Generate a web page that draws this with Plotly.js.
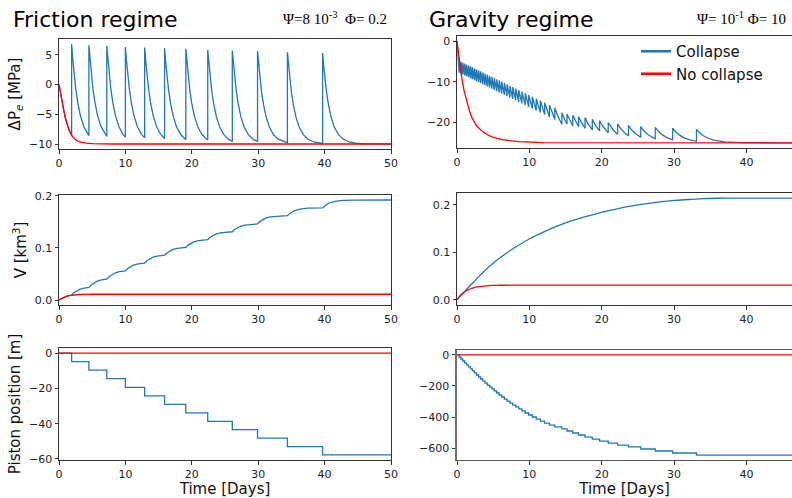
<!DOCTYPE html>
<html><head><meta charset="utf-8">
<script src="https://cdn.plot.ly/plotly-3.0.1.min.js"></script>
<style>html,body{margin:0;padding:0;background:#fff}#c{width:792px;height:498px}</style>
</head><body><div id="c"></div>
<script>
// ---------- Friction regime (left column) ----------
const fricTime = [0,0.25,0.5,0.75,1,1.25,1.5,1.9,
1.9,2.05,2.25,2.5,2.8,3.2,3.7,4.3,4.5,
4.5,4.65,4.85,5.1,5.4,5.8,6.3,6.9,7.2,
7.2,7.35,7.55,7.8,8.1,8.5,9.0,9.6,10.0,
10.0,10.15,10.35,10.6,10.9,11.3,11.8,12.4,12.9,
12.9,13.05,13.25,13.5,13.8,14.2,14.7,15.3,15.9,
15.9,16.05,16.25,16.5,16.8,17.2,17.7,18.3,19.0,19.1,
19.1,19.25,19.45,19.7,20.0,20.4,20.9,21.5,22.2,22.4,
22.4,22.55,22.75,23.0,23.3,23.7,24.2,24.8,25.5,26.1,
26.1,26.25,26.45,26.7,27.0,27.4,27.9,28.5,29.2,29.9,
29.9,30.05,30.25,30.5,30.8,31.2,31.7,32.3,33.0,33.9,34.4,
34.4,34.55,34.75,35.0,35.3,35.7,36.2,36.8,37.5,38.4,39.7,
39.7,39.85,40.05,40.3,40.6,41.0,41.5,42.1,42.8,43.7,44.7,46.2,50];
const fricDPCollapse = [0,-1.7,-3.2,-4.5,-5.8,-6.8,-7.6,-8.6,
6.8,4.57,2.05,-0.51,-2.88,-5.13,-6.98,-8.29,-8.59,
6.6,4.39,1.90,-0.62,-2.96,-5.19,-7.01,-8.31,-8.73,
6.5,4.31,1.83,-0.68,-3.0,-5.21,-7.03,-8.32,-8.85,
6.3,4.13,1.69,-0.79,-3.09,-5.27,-7.07,-8.34,-8.97,
6.2,4.05,1.62,-0.85,-3.13,-5.30,-7.08,-8.35,-9.07,
6.1,3.96,1.54,-0.90,-3.17,-5.33,-7.10,-8.36,-9.16,-9.24,
6.0,3.87,1.47,-0.96,-3.22,-5.36,-7.12,-8.37,-9.16,-9.31,
5.8,3.70,1.33,-1.07,-3.30,-5.42,-7.16,-8.39,-9.18,-9.53,
5.7,3.61,1.26,-1.13,-3.34,-5.45,-7.17,-8.40,-9.18,-9.58,
5.6,3.53,1.19,-1.19,-3.39,-5.48,-7.19,-8.41,-9.19,-9.65,-9.78,
5.4,3.35,1.04,-1.30,-3.47,-5.53,-7.23,-8.43,-9.20,-9.66,-9.90,
5.3,3.27,0.97,-1.36,-3.51,-5.56,-7.25,-8.44,-9.20,-9.66,-9.87,-9.97,-10];
const fricNoTime = [0,0.25,0.5,0.75,1,1.25,1.5,2,2.5,3,4,5,6,8,50];
const fricDPNo = [0,-1.7,-3.2,-4.5,-5.8,-6.8,-7.6,-8.7,-9.3,-9.6,-9.85,-9.95,-10,-10,-10];

const fricVTime = [0,0.5,1,1.5,1.9,2.2,2.6,3.1,3.8,4.5,4.8,5.2,5.7,6.4,7.2,
7.5,7.9,8.4,9.1,10.0,10.3,10.7,11.2,11.9,12.9,13.2,13.6,14.1,14.8,15.9,
16.2,16.6,17.1,17.8,19.1,19.4,19.8,20.3,21.0,22.4,22.7,23.1,23.6,24.3,26.1,
26.4,26.8,27.3,28.0,29.9,30.2,30.6,31.1,31.8,34.4,34.7,35.1,35.6,36.3,37.5,39.7,
40.0,40.4,40.9,41.6,42.8,44.7,50];
const fricVCollapse = [0,0.0035,0.0064,0.0084,0.0095,0.0134,0.0172,0.0203,0.0227,0.024,
0.0283,0.0324,0.0358,0.0385,0.040,0.0443,0.0484,0.0517,0.0544,0.056,
0.060,0.0638,0.0669,0.0694,0.071,0.075,0.0787,0.0818,0.0843,0.086,
0.0899,0.0937,0.0967,0.0992,0.101,0.1049,0.1086,0.1117,0.1141,0.116,
0.1199,0.1235,0.1265,0.1289,0.131,0.1348,0.1385,0.1415,0.1439,0.146,
0.150,0.1539,0.1571,0.1596,0.162,0.1658,0.1694,0.1723,0.1746,0.1763,0.177,
0.1807,0.1843,0.1872,0.1895,0.1912,0.1919,0.192];
const fricVNoTime = [0,0.25,0.5,0.75,1,1.5,2,2.5,3,4,5,50];
const fricVNo = [0,0.0019,0.0035,0.005,0.0064,0.0084,0.0096,0.0102,0.0106,0.0108,0.011,0.011];

const fricPistonTime = [0,1.9,4.5,7.2,10.0,12.9,15.9,19.1,22.4,26.1,29.9,34.4,39.7,50];
const fricPistonCollapse = [0,-4.8,-9.7,-14.5,-19.4,-24.2,-29.1,-33.9,-38.7,-43.4,-48.2,-53.0,-57.7,-57.7];
const fricPistonNoTime = [0,50];
const fricPistonNo = [0,0];

// ---------- Gravity regime (right column) ----------
const gravTime = [0, 0.30,0.30, 0.55,0.55, 0.80,0.80, 1.06,1.06, 1.32,1.32, 1.59,1.59, 1.86,1.86,
2.13,2.13, 2.41,2.41, 2.69,2.69, 2.98,2.98, 3.27,3.27, 3.57,3.57, 3.87,3.87, 4.18,4.18,
4.50,4.50, 4.82,4.82, 5.15,5.15, 5.49,5.49, 5.83,5.83, 6.18,6.18, 6.55,6.55, 6.92,6.92,
7.31,7.31, 7.70,7.70, 8.11,8.11, 8.53,8.53, 8.97,8.97, 9.43,9.43, 9.91,9.91, 10.41,10.41,
10.95,10.95, 11.52,11.52, 12.12,12.12, 12.78,12.78,13.1, 13.52,13.52,13.9, 14.5,14.5,14.8,
15.2,15.2,15.55, 16.0,16.0,16.35, 16.8,16.8,17.2, 17.7,17.7,18.1, 18.7,18.7,19.1,
19.7,19.7,20.1,20.5, 20.9,20.9,21.3,21.7, 22.2,22.2,22.6,23.1, 23.7,23.7,24.1,24.6,
25.4,25.4,25.8,26.3,26.9, 27.4,27.4,27.8,28.3,29.0, 29.8,29.8,30.2,30.7,31.4,32.2,
33.1,33.1,33.5,34.0,34.7,35.6,37,39,46.3];
const gravDPCollapse = [0, -7.76,-4.86, -7.98,-5.08, -8.20,-5.30, -8.42,-5.52, -8.65,-5.75, -8.88,-5.98, -9.12,-6.22,
-9.35,-6.45, -9.60,-6.70, -9.84,-6.94, -10.09,-7.19, -10.34,-7.44, -10.60,-7.70, -10.87,-7.97, -11.14,-8.24,
-11.42,-8.52, -11.69,-8.79, -11.98,-9.08, -12.28,-9.38, -12.57,-9.67, -12.88,-9.98, -13.20,-10.30, -13.52,-10.62,
-13.86,-10.96, -14.20,-11.30, -14.56,-11.66, -14.92,-12.02, -15.30,-12.40, -15.70,-12.80, -16.12,-13.22, -16.56,-13.66,
-17.03,-14.13, -17.52,-14.62, -18.04,-15.14, -18.62,-15.72,-17.5, -19.26,-16.36,-18.29, -20.50,-17.60,-18.94,
-20.36,-17.9,-19.38, -20.83,-18.2,-19.61, -21.01,-18.5,-20.02, -21.43,-18.8,-20.25, -21.82,-19.2,-20.56,
-22.02,-19.5,-20.79,-21.77, -22.53,-20.0,-21.17,-22.07, -22.9,-20.3,-21.4,-22.42, -23.27,-20.7,-21.71,-22.64,
-23.62,-21.0,-21.94,-22.8,-23.53, -23.95,-21.2,-22.09,-22.91,-23.69, -24.23,-21.4,-22.24,-23.02,-23.76,-24.27,
-24.6,-21.7,-22.47,-23.19,-23.86,-24.38,-24.76,-24.93,-25];
const gravNoTime = [0,0.35,0.69,1.0,1.38,1.7,2.07,2.7,3.45,4.2,4.83,6.2,8.5,12,46.3];
const gravDPNo = [0,-5.2,-9.4,-12.4,-15.1,-17.0,-18.8,-20.8,-22.1,-23.0,-23.5,-24.2,-24.7,-24.95,-25];

const gravVTime = [0,0.5,1,1.5,2,3,4,5,6,7,8,10,12,14,16,18,20,22,24,26,28,30,32,34,36,38,46.3];
const gravVCollapse = [0,0.0085,0.0165,0.025,0.033,0.049,0.064,0.077,0.089,0.100,0.110,0.128,0.143,0.156,
0.167,0.176,0.184,0.191,0.197,0.202,0.206,0.209,0.211,0.213,0.2137,0.214,0.214];
const gravVNoTime = [0,0.25,0.5,0.75,1,1.5,2,2.5,3,4,5,6,8,46.3];
const gravVNo = [0,0.0055,0.0100,0.0137,0.0165,0.0210,0.0240,0.0262,0.0277,0.0296,0.0304,0.0308,0.031,0.031];

const gravPistonTime = [0,0.30,0.55,0.80,1.06,1.32,1.59,1.86,2.13,2.41,2.69,2.98,3.27,3.57,3.87,4.18,4.50,4.82,5.15,5.49,5.83,
6.18,6.55,6.92,7.31,7.70,8.11,8.53,8.97,9.43,9.91,10.41,10.95,11.52,12.12,12.78,13.52,14.5,15.2,16.0,16.8,
17.7,18.7,19.7,20.9,22.2,23.7,25.4,27.4,29.8,33.1,46.3];
const gravPistonCollapse = [0,-13,-26,-39,-52,-64,-77,-90,-103,-116,-129,-142,-155,-168,-181,-194,-206,-219,-232,-245,-258,
-271,-284,-297,-310,-323,-335,-348,-361,-374,-387,-400,-413,-426,-439,-452,-464,-477,-490,-503,-516,
-529,-542,-555,-568,-581,-593,-606,-619,-632,-645,-645];
const gravPistonNoTime = [0,46.3];
const gravPistonNo = [0,0];

const legendNames = ["Collapse","No collapse"];
const xTicksLeft = [0,10,20,30,40,50];
const xTicksRight = [0,10,20,30,40];

// ---------- styling ----------
const BLUE = "#1f77b4", RED = "#ff0000";
const FONT = "DejaVu Sans";
function ln(x,y,color,xa,ya,opts){
  return Object.assign({x:x,y:y,type:"scatter",mode:"lines",line:{color:color,width:1.3},
    xaxis:xa,yaxis:ya,showlegend:false,hoverinfo:"skip"},opts||{});
}
const traces = [
  ln(fricTime,fricDPCollapse,BLUE,"x","y"),
  ln(fricNoTime,fricDPNo,RED,"x","y"),
  ln(gravTime,gravDPCollapse,BLUE,"x2","y2"),
  ln(gravNoTime,gravDPNo,RED,"x2","y2"),
  ln(fricVTime,fricVCollapse,BLUE,"x3","y3"),
  ln(fricVNoTime,fricVNo,RED,"x3","y3"),
  ln(gravVTime,gravVCollapse,BLUE,"x4","y4",{line:{color:BLUE,width:1.3,shape:"spline",smoothing:0.6}}),
  ln(gravVNoTime,gravVNo,RED,"x4","y4",{line:{color:RED,width:1.3,shape:"spline",smoothing:0.6}}),
  ln(fricPistonTime,fricPistonCollapse,BLUE,"x5","y5",{line:{color:BLUE,width:1.3,shape:"hv"}}),
  ln(fricPistonNoTime,fricPistonNo,RED,"x5","y5"),
  ln(gravPistonTime,gravPistonCollapse,BLUE,"x6","y6",{line:{color:BLUE,width:1.3,shape:"hv"}}),
  ln(gravPistonNoTime,gravPistonNo,RED,"x6","y6"),
  // legend entries (no data, thicker legend lines like the reference)
  ln([null],[null],BLUE,"x2","y2",{name:legendNames[0],showlegend:true,line:{color:BLUE,width:2.6}}),
  ln([null],[null],RED,"x2","y2",{name:legendNames[1],showlegend:true,line:{color:RED,width:2.6}}),
];

const W=792,H=498;
const L=[59/W,391/W], R=[457/W,1];
function yd(top,bot){return [1-bot/H,1-top/H];}
function xax(dom,anchor,ticks,range,extra){
  return Object.assign({domain:dom,anchor:anchor,range:range,tickvals:ticks,
    showline:true,linecolor:"#333",linewidth:1,mirror:true,ticks:"outside",ticklen:3.5,tickwidth:1,
    tickcolor:"#333",showgrid:false,zeroline:false,tickfont:{family:FONT,size:11,color:"#222"},fixedrange:true},extra||{});
}
function yax(dom,anchor,range,dtick,fmt,mirror,title,extra){
  const o={domain:dom,anchor:anchor,range:range,dtick:dtick,tick0:0,tickformat:fmt,
    showline:true,linecolor:"#333",linewidth:1,mirror:mirror,ticks:"outside",ticklen:3.5,tickwidth:1,
    tickcolor:"#333",showgrid:false,zeroline:false,tickfont:{family:FONT,size:11,color:"#222"},fixedrange:true};
  if(title){o.title={text:title,font:{family:FONT,size:15,color:"#111"},standoff:4};}
  return Object.assign(o,extra||{});
}
const xTitle = {text:"Time [Days]",font:{family:FONT,size:15,color:"#111"},standoff:0};
const layout = {
  width:W,height:H,margin:{l:0,r:0,t:0,b:0},paper_bgcolor:"#fff",plot_bgcolor:"#fff",
  font:{family:FONT,color:"#111"},
  showlegend:true,
  legend:{x:636/W,y:1-35/H,xanchor:"left",yanchor:"top",bgcolor:"rgba(0,0,0,0)",
    font:{family:FONT,size:15,color:"#111"},itemwidth:30,tracegroupgap:0},
  xaxis:xax(L,"y",xTicksLeft,[0,50]),
  yaxis:yax(yd(39,149),"x",[-10.84,7.64],5,"d",true,"ΔP<sub><i>e</i></sub> [MPa]"),
  xaxis2:xax(R,"y2",xTicksRight,[0,46.3]),
  yaxis2:yax(yd(36,148),"x2",[-26.25,1.25],10,"d",false,null),
  xaxis3:xax(L,"y3",xTicksLeft,[0,50]),
  yaxis3:yax(yd(195,305),"x3",[-0.0096,0.2016],0.1,".1f",true,"V [km<sup>3</sup>]"),
  xaxis4:xax(R,"y4",xTicksRight,[0,46.3]),
  yaxis4:yax(yd(193,305),"x4",[-0.0107,0.2247],0.1,".1f",false,null),
  xaxis5:xax(L,"y5",xTicksLeft,[0,50],{title:xTitle}),
  yaxis5:yax(yd(348,460),"x5",[-60.6,2.9],20,"d",true,"Piston position [m]"),
  xaxis6:xax(R,"y6",xTicksRight,[0,46.3],{title:xTitle,linecolor:"#555"}),
  yaxis6:yax(yd(350,460),"x6",[-677,32],200,"d",false,null,{linewidth:2,linecolor:"#707070"}),
  annotations:[
    {text:"Friction regime",xref:"paper",yref:"paper",x:11/W,y:1-19/H,xanchor:"left",yanchor:"middle",
     showarrow:false,font:{family:FONT,size:22,color:"#000"}},
    {text:"Gravity regime",xref:"paper",yref:"paper",x:427/W,y:1-19/H,xanchor:"left",yanchor:"middle",
     showarrow:false,font:{family:FONT,size:22,color:"#000"}},
    {text:"Ψ=8 10<sup>-3</sup>  Φ= 0.2",xref:"paper",yref:"paper",x:389/W,y:1-18/H,xanchor:"right",yanchor:"middle",
     showarrow:false,font:{family:"Liberation Serif",size:15,color:"#000"}},
    {text:"Ψ= 10<sup>-1</sup> Φ= 10",xref:"paper",yref:"paper",x:788/W,y:1-18/H,xanchor:"right",yanchor:"middle",
     showarrow:false,font:{family:"Liberation Serif",size:15,color:"#000"}}
  ]
};
Plotly.newPlot("c",traces,layout,{staticPlot:true,displayModeBar:false});
</script>
</body></html>
